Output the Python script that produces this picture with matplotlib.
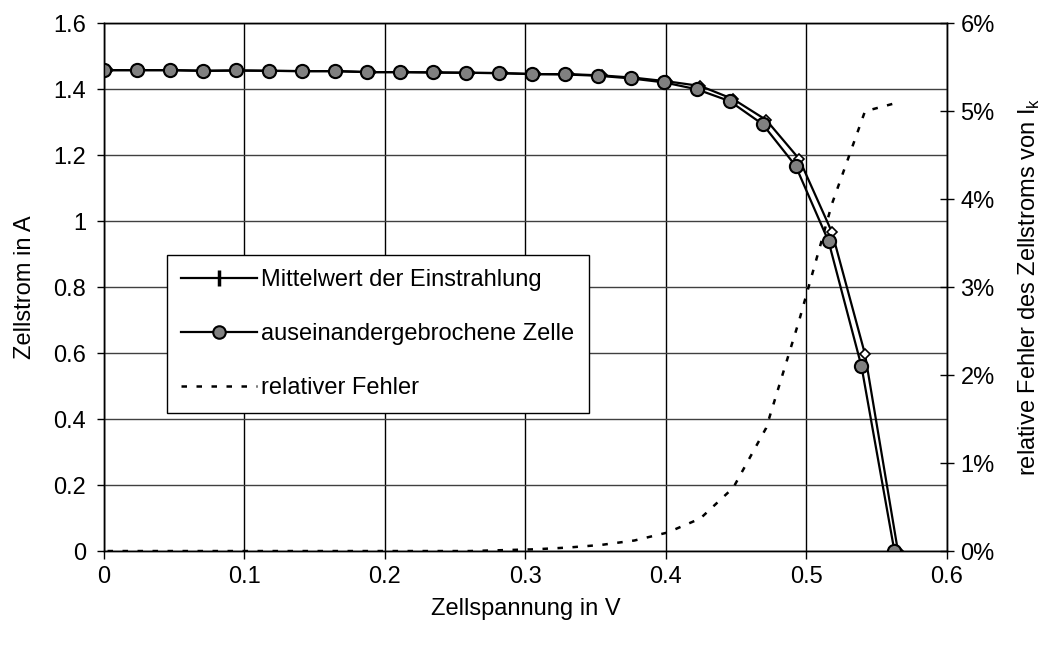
import matplotlib.pyplot as plt
from matplotlib.lines import Line2D
from matplotlib.ticker import FuncFormatter

plt.rcParams['font.family'] = ['Liberation Sans', 'DejaVu Sans']
plt.rcParams['mathtext.fontset'] = 'custom'
plt.rcParams['mathtext.rm'] = 'Liberation Sans'

# voltage of the broken cell (V)
u_zelle = [0.0, 0.02345, 0.0469, 0.07035, 0.0938, 0.11725, 0.1407, 0.16415,
           0.1876, 0.21105, 0.2345, 0.25795, 0.2814, 0.30485, 0.3283, 0.35175,
           0.3752, 0.39865, 0.4221, 0.44555, 0.469, 0.49245, 0.5159, 0.53935, 0.5628]
# current of the broken cell (A)
i_zelle = [1.458, 1.458, 1.458, 1.456, 1.457, 1.456, 1.455, 1.455, 1.452, 1.452,
           1.451, 1.450, 1.449, 1.446, 1.445, 1.441, 1.433, 1.421, 1.400, 1.364,
           1.294, 1.168, 0.939, 0.560, 0.0]

# voltage / current for the mean irradiation
u_mittel = [0.0025, 0.02595, 0.0494, 0.07285, 0.0963, 0.11975, 0.1432, 0.16665,
            0.1901, 0.21355, 0.237, 0.26045, 0.2839, 0.30735, 0.3308, 0.35425,
            0.3777, 0.40115, 0.4246, 0.44805, 0.4715, 0.49495, 0.5184, 0.54185, 0.5653]
i_mittel = [1.458, 1.458, 1.458, 1.456, 1.457, 1.456, 1.455, 1.455, 1.452, 1.452,
            1.451, 1.450, 1.449, 1.446, 1.446, 1.442, 1.435, 1.424, 1.410, 1.370,
            1.307, 1.189, 0.966, 0.597, 0.0]

# relative error (fraction)
fehler = [0, 0, 0, 0, 0, 0, 0, 0, 0, 0, 0, 0, 0.0001, 0.0002, 0.0004, 0.0007,
          0.0012, 0.0021, 0.0037, 0.0072, 0.0140, 0.0262, 0.0395, 0.0500, 0.0510]

x_ticks = [0, 0.1, 0.2, 0.3, 0.4, 0.5, 0.6]
y_ticks = [0, 0.2, 0.4, 0.6, 0.8, 1.0, 1.2, 1.4, 1.6]
y2_ticks = [0, 0.01, 0.02, 0.03, 0.04, 0.05, 0.06]

fs = 17

fig = plt.figure(figsize=(10.55, 6.46), dpi=100)
ax = fig.add_axes([0.0986, 0.147, 0.7987, 0.8169])
ax2 = ax.twinx()

# grid
for xv in x_ticks:
    ax.axvline(xv, color='black', lw=1.0, zorder=0)
for yv in y_ticks:
    ax.axhline(yv, color='#404040', lw=1.0, zorder=0)

# curves
ax.plot(u_mittel, i_mittel, color='black', lw=1.6, marker='D', markersize=5.5,
        markerfacecolor='white', markeredgecolor='black', markeredgewidth=1.2, zorder=2)
ax.plot(u_zelle, i_zelle, color='black', lw=1.6, marker='o', markersize=9.5,
        markerfacecolor='#808080', markeredgecolor='black', markeredgewidth=1.5, zorder=3)
ax2.plot(u_mittel, fehler, color='black', lw=1.8, linestyle=(0, (2.2, 3.8)))

ax.set_xlim(0, 0.6)
ax.set_ylim(0, 1.6)
ax2.set_ylim(0, 0.06)
ax.set_xticks(x_ticks)
ax.set_yticks(y_ticks)
ax2.set_yticks(y2_ticks)
ax.xaxis.set_major_formatter(FuncFormatter(lambda v, p: '%g' % v))
ax.yaxis.set_major_formatter(FuncFormatter(lambda v, p: '%g' % v))
ax2.yaxis.set_major_formatter(FuncFormatter(lambda v, p: '%d%%' % round(v * 100)))

ax.tick_params(axis='x', direction='out', length=6, width=1, labelsize=fs, pad=5)
ax.tick_params(axis='y', direction='out', length=5, width=1, labelsize=fs, pad=8)
ax2.tick_params(axis='y', direction='inout', length=10, width=1, labelsize=fs, pad=5)

for a in (ax, ax2):
    for s in a.spines.values():
        s.set_color('black')
        s.set_linewidth(1.0)

ax.set_xlabel('Zellspannung in V', fontsize=fs, labelpad=7)
ax.set_ylabel('Zellstrom in A', fontsize=fs, labelpad=12)
ax2.set_ylabel(r'relative Fehler des Zellstroms von I$_\mathregular{k}$', fontsize=fs, labelpad=16)

handles = [
    Line2D([], [], color='black', lw=1.6, marker='|', markersize=11, markeredgewidth=2.5),
    Line2D([], [], color='black', lw=1.6, marker='o', markersize=9,
           markerfacecolor='#808080', markeredgecolor='black', markeredgewidth=1.5),
    Line2D([], [], color='black', lw=1.8, linestyle=(0, (2.2, 3.8))),
]
labels = ['Mittelwert der Einstrahlung', 'auseinandergebrochene Zelle', 'relativer Fehler']
leg = ax2.legend(handles, labels, loc='upper left', bbox_to_anchor=(0.0748, 0.561),
                 borderaxespad=0, fontsize=fs, frameon=True, fancybox=False,
                 edgecolor='black', framealpha=1, handlelength=3.2, handletextpad=0.2,
                 labelspacing=1.35, borderpad=0.6)
leg.get_frame().set_linewidth(1.0)

fig.savefig('out.png', dpi=100)
